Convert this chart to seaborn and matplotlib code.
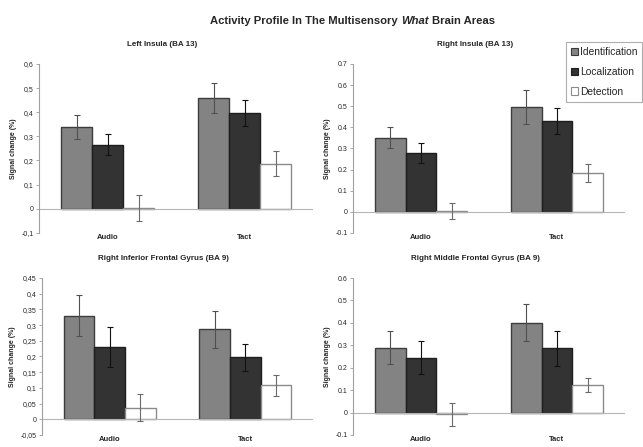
import numpy as np
import pandas as pd
import matplotlib
matplotlib.use('Agg')
from matplotlib import pyplot as plt
from matplotlib.patches import Patch
import seaborn as sns

# Chart values
modalities = ['Audio', 'Tact']
tasks = ['Identification', 'Localization', 'Detection']
titles = ['Left Insula (BA 13)', 'Right Insula (BA 13)',
          'Right Inferior Frontal Gyrus (BA 9)', 'Right Middle Frontal Gyrus (BA 9)']

# means per task, listed as [Audio, Tact]
left_insula_ident = [0.34, 0.46]
left_insula_loc = [0.265, 0.395]
left_insula_det = [0.003, 0.187]
left_insula_err = [[0.05, 0.062], [0.043, 0.054], [0.052, 0.053]]

right_insula_ident = [0.35, 0.495]
right_insula_loc = [0.28, 0.43]
right_insula_det = [0.003, 0.183]
right_insula_err = [[0.05, 0.08], [0.047, 0.06], [0.039, 0.043]]

rifg_ident = [0.33, 0.287]
rifg_loc = [0.23, 0.197]
rifg_det = [0.037, 0.108]
rifg_err = [[0.065, 0.059], [0.063, 0.044], [0.043, 0.034]]

rmfg_ident = [0.29, 0.40]
rmfg_loc = [0.245, 0.287]
rmfg_det = [-0.008, 0.122]
rmfg_err = [[0.072, 0.083], [0.075, 0.078], [0.05, 0.032]]

y_limits = [(-0.1, 0.6), (-0.1, 0.7), (-0.05, 0.45), (-0.1, 0.6)]
y_steps = [0.1, 0.1, 0.05, 0.1]
decimal_comma = [True, False, True, False]

panels = [
    (left_insula_ident, left_insula_loc, left_insula_det, left_insula_err),
    (right_insula_ident, right_insula_loc, right_insula_det, right_insula_err),
    (rifg_ident, rifg_loc, rifg_det, rifg_err),
    (rmfg_ident, rmfg_loc, rmfg_det, rmfg_err),
]

fill_colors = ['#838383', '#333333', '#ffffff']
edge_colors = ['#3c3c3c', '#1e1e1e', '#8a8a8a']
err_colors = ['#505050', '#111111', '#6a6a6a']

sns.set_style('white')
plt.rcParams['font.family'] = ['Liberation Sans', 'DejaVu Sans']

fig = plt.figure(figsize=(6.43, 4.47), dpi=100)
axes_boxes = [
    [0.061, 0.479, 0.426, 0.378],
    [0.549, 0.479, 0.423, 0.378],
    [0.065, 0.027, 0.422, 0.351],
    [0.549, 0.027, 0.423, 0.351],
]


def fmt_tick(v, comma):
    s = ('%.2f' % v).rstrip('0').rstrip('.')
    if s == '-0':
        s = '0'
    return s.replace('.', ',') if comma else s


for i, (ident, loc, det, errs) in enumerate(panels):
    ax = fig.add_axes(axes_boxes[i])
    df = pd.DataFrame({
        'modality': modalities * 3,
        'task': np.repeat(tasks, 2),
        'value': ident + loc + det,
    })
    sns.barplot(data=df, x='modality', y='value', hue='task', hue_order=tasks,
                order=modalities, palette=fill_colors, width=0.68,
                errorbar=None, legend=False, ax=ax, linewidth=1.0)

    bar_groups = list(ax.containers)
    for k, cont in enumerate(bar_groups):
        xs, ys = [], []
        for bar in cont:
            bar.set_edgecolor(edge_colors[k])
            bar.set_linewidth(1.0)
            xs.append(bar.get_x() + bar.get_width() / 2)
            ys.append(bar.get_height() + bar.get_y())
        ax.errorbar(xs, ys, yerr=errs[k], fmt='none', ecolor=err_colors[k],
                    elinewidth=0.8, capsize=2, capthick=0.8, zorder=5)

    ax.axhline(0, color='#b5b5b5', linewidth=0.8, zorder=1)
    ax.set_xlim(-0.5, 1.5)
    lo, hi = y_limits[i]
    ax.set_ylim(lo, hi)
    ticks = np.round(np.arange(lo, hi + 1e-9, y_steps[i]), 2)
    ax.set_yticks(ticks)
    ax.set_yticklabels([fmt_tick(t, decimal_comma[i]) for t in ticks], fontsize=5)
    ax.set_xticks([0, 1])
    ax.set_xticklabels(modalities, fontsize=5.5, fontweight='bold')
    ax.tick_params(axis='x', length=0, pad=1)
    ax.tick_params(axis='y', length=2, width=0.6, color='#9a9a9a', pad=2,
                   left=True, direction='out')
    ax.set_xlabel('')
    ax.set_ylabel('Signal change (%)', fontsize=5, fontweight='bold', labelpad=3)
    for side in ['top', 'right', 'bottom']:
        ax.spines[side].set_visible(False)
    ax.spines['left'].set_color('#a0a0a0')
    ax.spines['left'].set_linewidth(0.8)
    ax.set_facecolor('none')
    ax.set_title(titles[i], fontsize=5.8, fontweight='bold', pad=13, x=0.45)

# legend in the top right corner
handles = [Patch(facecolor=fill_colors[k], edgecolor=edge_colors[k], linewidth=0.8)
           for k in range(3)]
leg = fig.legend(handles, tasks, loc='upper right', bbox_to_anchor=(0.999, 0.906),
                 fontsize=7.4, frameon=True, fancybox=False, handlelength=0.7,
                 handleheight=0.7, handletextpad=0.15, borderpad=0.5,
                 labelspacing=0.95, borderaxespad=0)
leg.get_frame().set_edgecolor('#9a9a9a')
leg.get_frame().set_linewidth(0.8)

# suptitle with one italic word, pieces chained left to right
t1 = fig.text(0.327, 0.942, 'Activity Profile In The Multisensory', fontsize=8.1,
              fontweight='bold', ha='left', va='bottom')
t2 = ax.annotate('What', xy=(1, 0), xycoords=t1, xytext=(2.3, 0),
                 textcoords='offset points', fontsize=8.1, fontweight='bold',
                 style='italic', va='bottom', ha='left', annotation_clip=False)
t3 = ax.annotate('Brain Areas', xy=(1, 0), xycoords=t2, xytext=(2.3, 0),
                 textcoords='offset points', fontsize=8.1, fontweight='bold',
                 va='bottom', ha='left', annotation_clip=False)

fig.savefig('out.png', dpi=100)
